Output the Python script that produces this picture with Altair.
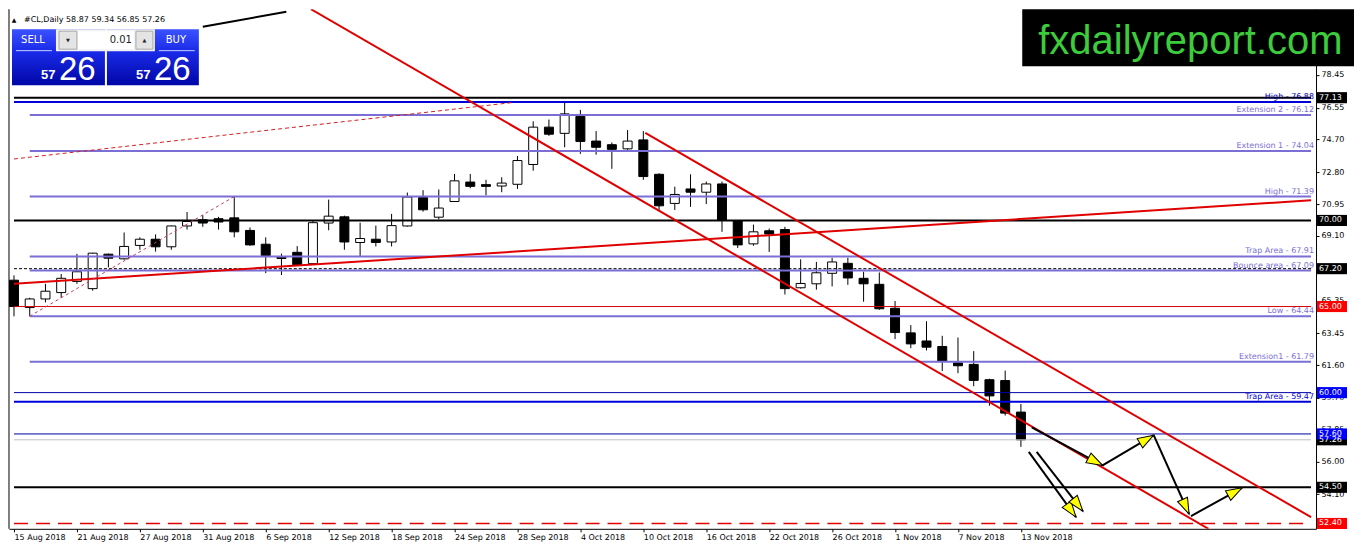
import math
import altair as alt
import pandas as pd

W, H = 1308, 520
X_DOM = [0.0, 82.44]
Y_DOM = [52.09, 82.27]

# ---- candle data (daily #CL) ----
date_ticks = [0, 4, 8, 12, 16, 20, 24, 28, 32, 36, 40, 44, 48, 52, 56, 60, 64]
date_labels = ["15 Aug 2018", "21 Aug 2018", "27 Aug 2018", "31 Aug 2018", "6 Sep 2018",
               "12 Sep 2018", "18 Sep 2018", "24 Sep 2018", "28 Sep 2018", "4 Oct 2018",
               "10 Oct 2018", "16 Oct 2018", "22 Oct 2018", "26 Oct 2018", "1 Nov 2018",
               "7 Nov 2018", "13 Nov 2018"]
price_ticks = [78.45, 76.55, 74.70, 72.80, 70.95, 69.10, 67.20, 65.35, 63.45, 61.60,
               59.70, 57.85, 56.00, 54.10, 52.25]

opens = [66.53, 64.94, 65.44, 65.81, 66.46, 66.04, 68.04, 67.77, 68.55, 68.91,
         68.47, 69.68, 70.04, 70.10, 70.15, 69.42, 68.62, 67.87, 68.15, 67.49,
         69.85, 70.21, 68.72, 68.91, 68.75, 69.68, 71.33, 70.19, 71.10, 72.23,
         72.08, 72.00, 72.10, 73.25, 75.42, 75.06, 76.04, 74.61, 74.40, 74.16,
         74.68, 72.68, 70.99, 71.83, 71.64, 72.12, 69.97, 68.64, 69.40, 69.47,
         66.09, 66.32, 66.93, 67.51, 66.64, 66.29, 64.90, 63.47, 63.00, 62.68,
         61.73, 61.64, 60.75, 60.70, 58.87]
highs = [66.81, 65.51, 66.32, 66.89, 68.06, 68.12, 68.08, 69.30, 69.02, 69.19,
         69.70, 70.49, 70.31, 70.21, 71.39, 69.59, 69.02, 68.07, 68.51, 70.00,
         71.21, 70.28, 69.87, 69.70, 70.38, 71.62, 71.76, 71.80, 72.70, 72.70,
         72.36, 72.51, 73.74, 75.76, 75.86, 76.88, 76.42, 75.19, 74.53, 75.25,
         75.19, 72.74, 71.96, 72.68, 72.26, 72.26, 70.00, 69.76, 69.53, 69.63,
         67.74, 67.59, 67.83, 67.83, 67.02, 66.98, 65.32, 63.92, 64.15, 63.30,
         63.20, 62.41, 60.81, 61.28, 59.34]
lows = [64.43, 64.44, 65.24, 65.51, 66.32, 65.92, 67.27, 67.73, 68.30, 68.19,
        68.30, 69.47, 69.63, 69.47, 69.02, 68.53, 66.94, 66.83, 67.36, 67.47,
        69.43, 68.30, 67.93, 68.49, 68.49, 69.64, 70.51, 70.06, 71.08, 71.87,
        71.46, 71.64, 71.83, 72.89, 74.91, 74.25, 73.87, 73.82, 73.00, 74.10,
        72.36, 70.57, 70.61, 70.79, 70.95, 69.34, 68.40, 68.53, 68.17, 65.70,
        66.04, 65.98, 66.17, 66.26, 65.28, 64.81, 63.11, 62.58, 62.45, 61.26,
        61.13, 60.37, 59.24, 58.67, 56.85]
closes = [65.00, 65.44, 65.89, 66.64, 67.02, 68.10, 67.81, 68.49, 68.91, 68.47,
          69.68, 69.94, 69.85, 69.91, 69.34, 68.58, 67.96, 67.79, 67.43, 69.87,
          70.25, 68.75, 68.95, 68.72, 69.70, 71.36, 70.62, 70.72, 72.30, 71.98,
          71.98, 72.17, 73.48, 75.42, 75.01, 76.19, 74.59, 74.25, 74.13, 74.61,
          72.55, 70.85, 71.51, 71.64, 72.12, 70.00, 68.58, 69.34, 69.21, 66.04,
          66.34, 66.96, 67.59, 66.66, 66.32, 64.87, 63.49, 62.83, 62.64, 61.83,
          61.56, 60.71, 59.81, 58.81, 57.26]

# ---- colours ----
BLACK = "#000000"
LAV = "#7b6fd6"
NAVY = "#0000a8"
BLUE = "#0000d8"
RED = "#d80000"
GRAY = "#c0c0c0"
TRED = "#e00000"

# ---- horizontal levels ----
lvl_price = [77.13, 76.88, 76.12, 74.04, 71.39, 70.00, 67.91, 67.09, 65.00, 64.44,
             61.79, 60.00, 59.47, 57.60, 57.26, 54.50]
lvl_start = [0, 0, 1, 1, 1, 0, 1, 1, 0, 1, 1, 0, 0, 0, 0, 0]
lvl_color = [BLACK, BLUE, LAV, LAV, LAV, BLACK, LAV, LAV, RED, LAV, LAV, NAVY, BLUE,
             NAVY, GRAY, BLACK]
lvl_width = [2, 2, 2, 2, 2, 2, 2, 2, 1, 2, 2, 1, 2, 1, 1, 2]

lab_text = ["High - 76.88", "Extension 2 - 76.12", "Extension 1 - 74.04", "High - 71.39",
            "Trap Area - 67.91", "Bounce area - 67.09", "Low - 64.44",
            "Extension1 - 61.79", "Trap Area - 59.47"]
lab_price = [76.88, 76.12, 74.04, 71.39, 67.91, 67.09, 64.44, 61.79, 59.47]
lab_color = [NAVY, LAV, LAV, LAV, LAV, LAV, LAV, LAV, BLUE]

box_price = [77.13, 70.00, 67.20, 65.00, 60.00, 57.26, 57.60, 54.50, 52.40]
box_color = [BLACK, BLACK, BLACK, "#ff0000", "#0000ff", BLACK, "#0000ff", BLACK, "#ff0000"]

# ---- trend lines (bar index, price) ----
thick_red = [(18.875, 82.27, 75.92, 52.09), (40.125, 75.08, 82.44, 52.77),
             (0.0, 66.32, 82.44, 71.17)]
dash_red = [(0.0, 73.57, 31.7, 76.85)]
dot_red = [(1.0, 64.44, 14.0, 71.39)]
black_top = [(12.0, 81.25, 17.31, 82.12)]
arrows = [(64.69, 57.98, 69.19, 55.77), (69.19, 55.77, 72.44, 57.53),
          (72.44, 57.53, 74.69, 52.95), (74.81, 52.83, 78.06, 54.47),
          (64.5, 56.56, 67.5, 52.77), (65.0, 56.56, 67.94, 53.11)]

FONT = "DejaVu Sans"
xs = alt.Scale(domain=X_DOM, nice=False, zero=False)
ys = alt.Scale(domain=Y_DOM, nice=False, zero=False)
label_js = "[" + ",".join("'%s'" % s for s in date_labels) + "]"
xaxis = alt.Axis(values=date_ticks, labelExpr=label_js + "[round(datum.value/4)]",
                 title=None, grid=False, labelAlign="left", labelFlush=False,
                 labelOverlap=False, tickSize=3, labelPadding=2, labelFont=FONT,
                 labelFontSize=8, labelColor="black", domainColor="black",
                 tickColor="black")
yaxis = alt.Axis(orient="right", values=price_ticks, format=".2f", title=None,
                 grid=False, tickSize=3, labelPadding=2, labelFont=FONT,
                 labelFontSize=8, labelColor="black", domainColor="black",
                 tickColor="black", labelOverlap=False, labelFlush=False)


def X(f="x"):
    return alt.X(f + ":Q", scale=xs, axis=xaxis)


def Y(f="y"):
    return alt.Y(f + ":Q", scale=ys, axis=yaxis)


candles = pd.DataFrame({"x": list(range(len(opens))), "o": opens, "h": highs,
                        "l": lows, "c": closes})
candles["fill"] = ["#ffffff" if c > o else "#000000" for o, c in zip(opens, closes)]

layers = []
layers.append(alt.Chart(candles).mark_rule(color="black", strokeWidth=1, clip=True)
              .encode(x=X(), y=alt.Y("l:Q", scale=ys, axis=yaxis), y2="h:Q"))
layers.append(alt.Chart(candles).mark_bar(size=9, stroke="black", strokeWidth=1, clip=True)
              .encode(x=X(), y=alt.Y("o:Q", scale=ys, axis=yaxis), y2="c:Q",
                      color=alt.Color("fill:N", scale=None)))

lv = pd.DataFrame({"x": lvl_start, "x2": [X_DOM[1]] * len(lvl_price), "y": lvl_price,
                   "col": lvl_color, "w": lvl_width})
layers.append(alt.Chart(lv).mark_rule(clip=True).encode(
    x=X(), x2="x2:Q", y=Y(), color=alt.Color("col:N", scale=None),
    strokeWidth=alt.StrokeWidth("w:Q", scale=None)))

dash1 = pd.DataFrame({"x": [0.0], "x2": [X_DOM[1]], "y": [67.20]})
layers.append(alt.Chart(dash1).mark_rule(color="black", strokeWidth=1, strokeDash=[3, 2], clip=True)
              .encode(x=X(), x2="x2:Q", y=Y()))
dash2 = pd.DataFrame({"x": [0.0], "x2": [X_DOM[1]], "y": [52.40]})
layers.append(alt.Chart(dash2).mark_rule(color="#e00000", strokeWidth=1.5, strokeDash=[14, 8], clip=True)
              .encode(x=X(), x2="x2:Q", y=Y()))


def segs(lst):
    return pd.DataFrame({"x": [s[0] for s in lst], "y": [s[1] for s in lst],
                         "x2": [s[2] for s in lst], "y2": [s[3] for s in lst]})


def seg_layer(lst, **kw):
    return alt.Chart(segs(lst)).mark_rule(clip=True, **kw).encode(
        x=X(), y=Y(), x2="x2:Q", y2="y2:Q")


layers.append(seg_layer(thick_red, color=TRED, strokeWidth=2))
layers.append(seg_layer(dash_red, color="#d42020", strokeWidth=1, strokeDash=[4, 3]))
layers.append(seg_layer(dot_red, color="#c83a6a", strokeWidth=1, strokeDash=[3, 3]))
layers.append(seg_layer(black_top, color="black", strokeWidth=2))
layers.append(seg_layer(arrows, color="black", strokeWidth=2))

# arrow heads at each segment end
sx = W / (X_DOM[1] - X_DOM[0])
sy = H / (Y_DOM[1] - Y_DOM[0])
heads = pd.DataFrame({
    "x": [a[2] for a in arrows], "y": [a[3] for a in arrows],
    "ang": [math.degrees(math.atan2(-(a[3] - a[1]) * sy, (a[2] - a[0]) * sx)) % 360
            for a in arrows]})
layers.append(alt.Chart(heads).mark_point(
    shape="M0,0L-1,-0.34L-1,0.34Z", size=1024, filled=True, fill="#ffff00",
    stroke="black", strokeWidth=1, opacity=1).encode(
    x=X(), y=Y(), angle=alt.Angle("ang:Q", scale=None)))

# level labels
labs = pd.DataFrame({"y": lab_price, "t": lab_text, "col": lab_color})
layers.append(alt.Chart(labs).mark_text(align="right", baseline="bottom", dy=-1,
                                        font=FONT, fontSize=8).encode(
    x=alt.value(W - 2), y=Y(), text="t:N", color=alt.Color("col:N", scale=None)))

# price boxes on the axis
boxes = pd.DataFrame({"y": box_price, "col": box_color,
                      "t": ["%.2f" % p for p in box_price]})
layers.append(alt.Chart(boxes).mark_point(
    shape="M-1,-0.37H1V0.37H-1Z", size=900, filled=True, opacity=1, strokeWidth=0).encode(
    x=alt.value(W + 16), y=Y(), color=alt.Color("col:N", scale=None)))
layers.append(alt.Chart(boxes).mark_text(align="left", baseline="middle", color="white",
                                         font=FONT, fontSize=8).encode(
    x=alt.value(W + 3), y=Y(), text="t:N"))

# ---- UI widgets ----
one = pd.DataFrame({"k": [0]})


def ui_rect(x, y, x2, y2, **kw):
    return alt.Chart(one).mark_rect(**kw).encode(
        x=alt.value(x), x2=alt.value(x2), y=alt.value(y), y2=alt.value(y2))


def ui_text(x, y, txt, **kw):
    return alt.Chart(one).mark_text(text=txt, **kw).encode(x=alt.value(x), y=alt.value(y))


def ui_rule(x, y, x2, y2, **kw):
    return alt.Chart(one).mark_rule(**kw).encode(
        x=alt.value(x), x2=alt.value(x2), y=alt.value(y), y2=alt.value(y2))


grad = alt.Gradient(gradient="linear", x1=0, x2=0, y1=0, y2=1,
                    stops=[alt.GradientStop(offset=0, color="#3a52ff"),
                           alt.GradientStop(offset=0.4, color="#1a2ae8"),
                           alt.GradientStop(offset=1, color="#0006a6")])

layers.append(ui_rule(0, 0, 0, H, color="black", strokeWidth=1))
layers.append(ui_rect(1014, 0, W + 38, 57, fill="black"))
layers.append(ui_text(1030, 45, "fxdailyreport.com", font="Liberation Sans", fontSize=40,
                      color="#3ccc3c", align="left", baseline="alphabetic"))
layers.append(ui_text(5, 11, "\u25b2", fontSize=6, color="black", align="center",
                      baseline="middle", font=FONT))
last = len(opens) - 1
hdr = "#CL,Daily  %.2f %.2f %.2f %.2f" % (opens[last], highs[last], lows[last], closes[last])
layers.append(ui_text(15, 11, hdr, font=FONT, fontSize=8, color="black", align="left",
                      baseline="middle"))
layers.append(ui_rect(3, 20, 96, 76, fill=grad))
layers.append(ui_rect(98, 20, 190, 76, fill=grad))
layers.append(ui_rect(47, 20, 146, 42, fill="#f2f2f2"))
layers.append(ui_rect(50, 22, 68, 40, fill="#e4e4e4", stroke="#a8a8a8", strokeWidth=1))
layers.append(ui_rect(69, 22, 125, 40, fill="#ffffff"))
layers.append(ui_rect(127, 22, 144, 40, fill="#e4e4e4", stroke="#a8a8a8", strokeWidth=1))
layers.append(ui_text(59, 31, "\u25bc", fontSize=5, color="#222222", align="center",
                      baseline="middle", font=FONT))
layers.append(ui_text(135.5, 31, "\u25b2", fontSize=5, color="#222222", align="center",
                      baseline="middle", font=FONT))
layers.append(ui_text(123, 31, "0.01", fontSize=10, color="#222222", align="right",
                      baseline="middle", font=FONT))
layers.append(ui_text(24, 31, "SELL", fontSize=10, color="white", align="center",
                      baseline="middle", font=FONT))
layers.append(ui_text(167, 31, "BUY", fontSize=10, color="white", align="center",
                      baseline="middle", font=FONT))
layers.append(ui_rule(7, 41.5, 43, 41.5, color="#c8d0ff", strokeWidth=1))
layers.append(ui_rule(150, 41.5, 186, 41.5, color="#c8d0ff", strokeWidth=1))
bid_big = "%02d" % round((closes[last] % 1) * 100)
bid_small = "%d" % int(closes[last])
layers.append(ui_text(32, 70, bid_small, font="Liberation Sans", fontSize=13,
                      fontWeight="bold", color="white", align="left", baseline="alphabetic"))
layers.append(ui_text(50, 71, bid_big, font="Liberation Sans", fontSize=33,
                      color="white", align="left", baseline="alphabetic"))
layers.append(ui_text(127, 70, bid_small, font="Liberation Sans", fontSize=13,
                      fontWeight="bold", color="white", align="left", baseline="alphabetic"))
layers.append(ui_text(145, 71, bid_big, font="Liberation Sans", fontSize=33,
                      color="white", align="left", baseline="alphabetic"))

chart = alt.layer(*layers).properties(width=W, height=H, padding=0,
                                      background="white").configure_view(stroke=None)

chart.save("out.html", embed_options={"renderer": "svg", "actions": False})
